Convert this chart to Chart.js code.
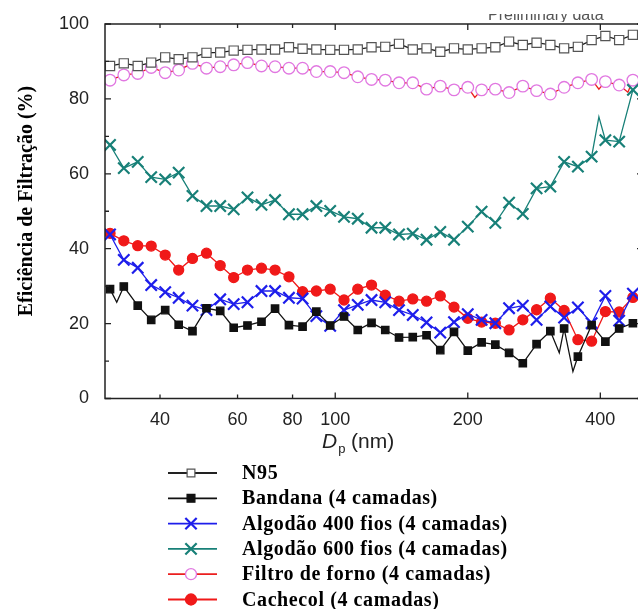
<!DOCTYPE html>
<html>
<head>
<meta charset="utf-8">
<script src="https://cdn.jsdelivr.net/npm/chart.js@4/dist/chart.umd.min.js"></script>
<style>
  html, body { margin: 0; padding: 0; background: #fff; overflow: hidden; }
  #wrap { width: 660px; height: 609px; }
</style>
</head>
<body>
<div id="wrap"><canvas id="myChart" width="660" height="609"></canvas></div>
<script>
// particle diameter (nm), one per marker
var dp = [30.8, 33.1, 35.6, 38.2, 41.1, 44.1, 47.4, 51.0, 54.8, 58.8,
          63.2, 68.0, 73.0, 78.5, 84.3, 90.6, 97.4, 104.7, 112.5, 120.9,
          129.9, 139.6, 150.0, 161.2, 173.2, 186.1, 200.0, 215.0, 231.0, 248.2,
          266.7, 286.6, 308.0, 331.0, 355.7, 382.2, 410.7, 441.4, 474.3];
var xTicks = [40, 60, 80, 100, 200, 400];
var yTicks = [0, 20, 40, 60, 80, 100];

var seriesNames = ['N95', 'Bandana (4 camadas)', 'Algodão 400 fios (4 camadas)',
                   'Algodão 600 fios (4 camadas)', 'Filtro de forno (4 camadas)', 'Cachecol (4 camadas)'];

var n95 = [88.8, 89.5, 88.8, 89.7, 91.1, 90.6, 91.1, 92.3, 92.4, 92.9,
           93.1, 93.2, 93.2, 93.8, 93.4, 93.2, 93.1, 93.1, 93.2, 93.8,
           93.9, 94.7, 93.2, 93.5, 92.6, 93.5, 93.2, 93.5, 93.8, 95.3,
           94.4, 95.0, 94.4, 93.5, 93.9, 95.7, 96.8, 95.7, 97.1];
var bandana = [29.2, 29.9, 24.8, 21.0, 23.6, 19.7, 18.0, 24.1, 23.4, 18.9,
               19.5, 20.5, 24.0, 19.6, 19.2, 23.2, 19.5, 21.9, 18.3, 20.2,
               18.3, 16.3, 16.4, 16.9, 12.9, 17.8, 12.8, 15.0, 14.4, 12.2,
               9.4, 14.5, 18.0, 18.7, 11.2, 19.6, 15.2, 18.7, 20.1];
var bandanaLine = [[31.9, 25.7], [322.7, 12.2], [346.6, 7.2]];
var algodao400 = [43.8, 37.0, 34.9, 30.3, 28.4, 26.9, 24.8, 23.6, 26.5, 25.2,
                  25.7, 28.7, 28.7, 26.9, 26.7, 22.0, 19.4, 23.6, 25.0, 26.3,
                  25.7, 23.6, 22.3, 20.3, 17.6, 20.4, 22.5, 21.0, 20.1, 24.1,
                  24.8, 21.0, 24.6, 21.6, 24.3, 20.1, 27.4, 20.8, 28.0];
var algodao600 = [67.7, 61.5, 63.2, 59.1, 58.5, 60.3, 54.1, 51.4, 51.4, 50.5,
                  53.7, 51.7, 53.0, 49.2, 49.2, 51.4, 50.1, 48.5, 48.0, 45.6,
                  45.6, 43.8, 44.0, 42.4, 44.5, 42.4, 45.9, 49.9, 46.9, 52.3,
                  49.3, 56.1, 56.6, 63.2, 61.9, 64.6, 69.0, 68.6, 82.4];
var algodao600Line = [[397, 75.2]];
var filtro = [85.0, 86.4, 86.8, 88.4, 87.0, 87.7, 89.5, 88.2, 88.6, 89.1,
              89.7, 88.8, 88.6, 88.2, 88.2, 87.3, 87.3, 87.0, 85.9, 85.2,
              85.0, 84.3, 84.3, 82.6, 83.4, 82.4, 83.1, 82.4, 82.6, 81.7,
              83.4, 82.2, 81.3, 83.1, 84.3, 85.2, 84.6, 83.7, 85.0];
var filtroLine = [[207.5, 80.4], [397, 82.6], [462, 81.8]];
var cachecol = [44.1, 42.1, 40.8, 40.7, 38.3, 34.3, 37.4, 38.8, 35.5, 32.3,
                34.3, 34.8, 34.3, 32.5, 28.5, 28.7, 29.2, 26.3, 29.2, 30.3,
                27.6, 26.0, 26.6, 26.0, 27.4, 24.4, 21.4, 20.4, 20.1, 18.3,
                21.0, 23.7, 26.8, 23.5, 15.7, 15.3, 23.2, 23.1, 27.0];

function build(ys, extra) {
    var pts = dp.map(function (d, i) { return { x: d, y: ys[i], m: true }; });
    (extra || []).forEach(function (e) { pts.push({ x: e[0], y: e[1], m: false }); });
    pts.sort(function (a, b) { return a.x - b.x; });
    return pts;
}

function ds(label, ys, extra, o) {
    var r = o.radius;
    return {
        label: label,
        data: build(ys, extra),
        borderColor: o.line,
        borderWidth: o.lineWidth || 1.3,
        pointStyle: o.style,
        pointRadius: function (c) { return c.raw && c.raw.m ? r : 0; },
        pointBorderColor: o.mark,
        pointBackgroundColor: o.fill,
        pointBorderWidth: o.markWidth || 1.3,
        tension: 0,
        fill: false
    };
}

var datasets = [
    ds(seriesNames[0], n95, null, { line: '#222', mark: '#555', fill: '#fff', style: 'rect', radius: 6.5, markWidth: 1.2 }),
    ds(seriesNames[1], bandana, bandanaLine, { line: '#111', mark: '#111', fill: '#111', style: 'rect', radius: 5.2 }),
    ds(seriesNames[2], algodao400, null, { line: 'rgb(30,30,235)', mark: 'rgb(30,30,235)', fill: 'rgb(30,30,235)', style: 'crossRot', radius: 8, markWidth: 2.2 }),
    ds(seriesNames[3], algodao600, algodao600Line, { line: 'rgb(24,128,120)', mark: 'rgb(24,128,120)', fill: 'rgb(24,128,120)', style: 'crossRot', radius: 8, markWidth: 2.2 }),
    ds(seriesNames[4], filtro, filtroLine, { line: 'rgb(235,30,30)', mark: 'rgb(225,120,225)', fill: '#fff', style: 'circle', radius: 5.8, markWidth: 1.3 }),
    ds(seriesNames[5], cachecol, null, { line: 'rgb(240,25,25)', mark: 'rgb(240,25,25)', fill: 'rgb(240,25,25)', style: 'circle', radius: 5 })
];

function marker(ctx, d, x, y, r) {
    ctx.save();
    ctx.lineWidth = d.pointBorderWidth;
    ctx.strokeStyle = d.pointBorderColor;
    ctx.fillStyle = d.pointBackgroundColor;
    ctx.beginPath();
    if (d.pointStyle === 'rect') {
        var s = r * Math.SQRT1_2;
        ctx.rect(x - s, y - s, 2 * s, 2 * s);
        ctx.fill(); ctx.stroke();
    } else if (d.pointStyle === 'circle') {
        ctx.arc(x, y, r, 0, Math.PI * 2);
        ctx.fill(); ctx.stroke();
    } else {
        var k = r * Math.SQRT1_2;
        ctx.moveTo(x - k, y - k); ctx.lineTo(x + k, y + k);
        ctx.moveTo(x - k, y + k); ctx.lineTo(x + k, y - k);
        ctx.stroke();
    }
    ctx.restore();
}

var decor = {
    id: 'decor',
    afterDraw: function (chart) {
        var ctx = chart.ctx, a = chart.chartArea;
        var xs = chart.scales.x, ys = chart.scales.y;
        ctx.save();
        // frame
        ctx.strokeStyle = '#222';
        ctx.lineWidth = 1.5;
        ctx.strokeRect(a.left, a.top, a.right - a.left, a.bottom - a.top);
        // inward ticks
        ctx.lineWidth = 1.3;
        ctx.beginPath();
        xTicks.forEach(function (v) {
            var px = xs.getPixelForValue(v), len = v >= 100 ? 6 : 4;
            ctx.moveTo(px, a.bottom); ctx.lineTo(px, a.bottom - len);
            ctx.moveTo(px, a.top); ctx.lineTo(px, a.top + len);
        });
        for (var v = 0; v <= 100; v += 10) {
            var py = ys.getPixelForValue(v), len = v % 20 === 0 ? 6 : 4;
            ctx.moveTo(a.left, py); ctx.lineTo(a.left + len, py);
            ctx.moveTo(a.right, py); ctx.lineTo(a.right - len, py);
        }
        ctx.stroke();

        // y title
        ctx.fillStyle = '#000';
        ctx.font = 'bold 20px "Liberation Serif", "Times New Roman", serif';
        ctx.textAlign = 'center';
        ctx.textBaseline = 'middle';
        ctx.save();
        ctx.translate(27, 201);
        ctx.rotate(-Math.PI / 2);
        ctx.fillText('Eficiência de Filtração (%)', 0, 0);
        ctx.restore();

        // x title: D_p (nm)
        ctx.textAlign = 'left';
        ctx.textBaseline = 'alphabetic';
        ctx.fillStyle = '#222';
        var x0 = 322, base = 448;
        ctx.font = 'italic 21px "Liberation Sans", Arial, sans-serif';
        ctx.fillText('D', x0, base);
        var w = ctx.measureText('D').width;
        ctx.font = '13px "Liberation Sans", Arial, sans-serif';
        ctx.fillText('p', x0 + w + 1, base + 5);
        ctx.font = '21px "Liberation Sans", Arial, sans-serif';
        ctx.fillText(' (nm)', x0 + w + 8, base);

        // clipped caption at the top right
        ctx.save();
        ctx.beginPath();
        ctx.rect(0, 14, chart.width, 8);
        ctx.clip();
        ctx.fillStyle = '#555';
        ctx.font = '16px "Liberation Sans", Arial, sans-serif';
        ctx.fillText('Preliminary data', 488, 20);
        ctx.restore();

        // legend
        ctx.letterSpacing = '0.6px';
        chart.data.datasets.forEach(function (d, i) {
            var y = 473 + i * 25.3;
            ctx.strokeStyle = d.borderColor;
            ctx.lineWidth = 1.8;
            ctx.beginPath();
            ctx.moveTo(168, y); ctx.lineTo(217, y);
            ctx.stroke();
            var r = d.pointStyle === 'crossRot' ? 8 : 5.5;
            marker(ctx, d, 191, y, r);
            ctx.fillStyle = '#000';
            ctx.font = 'bold 20px "Liberation Serif", "Times New Roman", serif';
            ctx.textBaseline = 'middle';
            ctx.fillText(d.label, 242, y + 1);
        });
        ctx.restore();
    }
};

Chart.defaults.font.family = '"Liberation Sans", Arial, sans-serif';

new Chart(document.getElementById('myChart').getContext('2d'), {
    type: 'line',
    data: { datasets: datasets },
    options: {
        responsive: false,
        animation: false,
        events: [],
        layout: { padding: { top: 24, right: 17, left: 0, bottom: 0 } },
        plugins: { legend: { display: false }, tooltip: { enabled: false } },
        scales: {
            x: {
                type: 'logarithmic',
                min: 30,
                max: 500,
                grid: { display: false },
                border: { display: false },
                afterBuildTicks: function (s) { s.ticks = xTicks.map(function (v) { return { value: v }; }); },
                afterFit: function (s) { s.height = 210.5; },
                ticks: {
                    autoSkip: false,
                    maxRotation: 0,
                    padding: 3,
                    color: '#222',
                    font: { size: 18 },
                    callback: function (v) { return String(v); }
                }
            },
            y: {
                min: 0,
                max: 100,
                grid: { display: false },
                border: { display: false },
                afterBuildTicks: function (s) { s.ticks = yTicks.map(function (v) { return { value: v }; }); },
                afterFit: function (s) { s.width = 105; },
                ticks: {
                    padding: 8,
                    color: '#222',
                    font: { size: 18 }
                }
            }
        }
    },
    plugins: [decor]
});
</script>
</body>
</html>
